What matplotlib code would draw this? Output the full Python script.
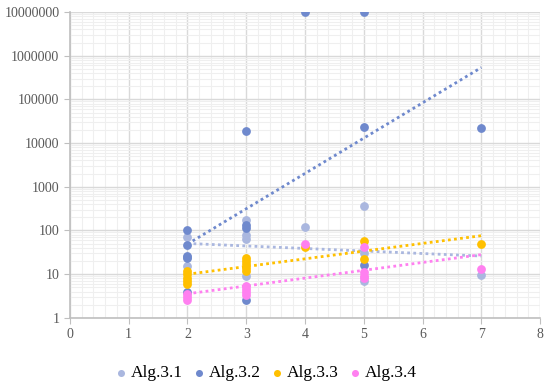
import numpy as np
import matplotlib.pyplot as plt
from matplotlib.ticker import MultipleLocator, LogLocator, NullFormatter, FuncFormatter

## Dane
names = ['Alg.3.1', 'Alg.3.2', 'Alg.3.3', 'Alg.3.4']
colors = ['#AAB7DF', '#6F89CD', '#FFC000', '#FF80F0']

x_31 = [2, 2, 2, 3, 3, 3, 3, 4, 5, 5, 5, 7]
y_31 = [72, 25, 15, 175, 80, 65, 9, 120, 360, 30, 7, 9.5]

x_32 = [2, 2, 2, 2, 2, 3, 3, 3, 3, 4, 5, 5, 5, 7]
y_32 = [102, 46, 26, 23, 3.9, 18500, 132, 112, 2.6, 1e7, 1e7, 23000, 16, 22000]

x_33 = [2, 2, 2, 2, 2, 3, 3, 3, 3, 3, 4, 5, 5, 7]
y_33 = [12, 10, 8, 7, 6, 23, 20, 17, 14, 12, 42, 58, 22, 49]

x_34 = [2, 2, 2, 3, 3, 3, 3, 4, 5, 5, 5, 5, 7]
y_34 = [3.6, 3, 2.5, 5.4, 4.5, 4, 3.4, 50, 41, 11, 9, 8, 13]

series = [(x_31, y_31), (x_32, y_32), (x_33, y_33), (x_34, y_34)]

plt.rcParams['font.family'] = ['Liberation Serif', 'DejaVu Serif']

fig = plt.figure(figsize=(5.5, 3.89), dpi=100)
ax = fig.add_axes([0.127, 0.183, 0.855, 0.786])

for (xs, ys), name, c in zip(series, names, colors):
    ax.scatter(xs, ys, s=40, color=c, label=name, zorder=3, linewidths=0)

## Linie trendu wykladnicze (jak w Excelu)
for (xs, ys), c in zip(series, colors):
    xs = np.array(xs, dtype=float)
    b, a = np.polyfit(xs, np.log(ys), 1)
    xt = np.linspace(xs.min(), xs.max(), 50)
    ax.plot(xt, np.exp(a + b * xt), color=c, linestyle=(0, (1, 1.2)), linewidth=2, zorder=2)

ax.set_yscale('log')
ax.set_xlim(0, 8)
ax.set_ylim(1, 1e7)
ax.xaxis.set_major_locator(MultipleLocator(1))
ax.xaxis.set_minor_locator(MultipleLocator(0.2))
ax.yaxis.set_major_locator(LogLocator(base=10, numticks=20))
ax.yaxis.set_minor_locator(LogLocator(base=10, subs=np.arange(2, 10), numticks=20))
ax.yaxis.set_major_formatter(FuncFormatter(lambda v, p: f'{int(round(v))}'))
ax.yaxis.set_minor_formatter(NullFormatter())

ax.grid(which='major', color='#D9D9D9', linewidth=1)
ax.grid(which='minor', color='#EFEFEF', linewidth=0.8)
ax.set_axisbelow(True)

for s in ['top', 'right']:
    ax.spines[s].set_visible(False)
for s in ['left', 'bottom']:
    ax.spines[s].set_color('#BFBFBF')
    ax.spines[s].set_linewidth(1.2)

ax.tick_params(which='major', colors='#BFBFBF', labelcolor='#595959', labelsize=10, length=4)
ax.tick_params(which='minor', length=0)

fig.legend(loc='center', bbox_to_anchor=(0.484, 0.041), ncol=4, frameon=False,
           fontsize=12.5, handlelength=0.6, handletextpad=0.3, columnspacing=0.6,
           markerscale=0.8)

plt.savefig('out.png', dpi=100)
